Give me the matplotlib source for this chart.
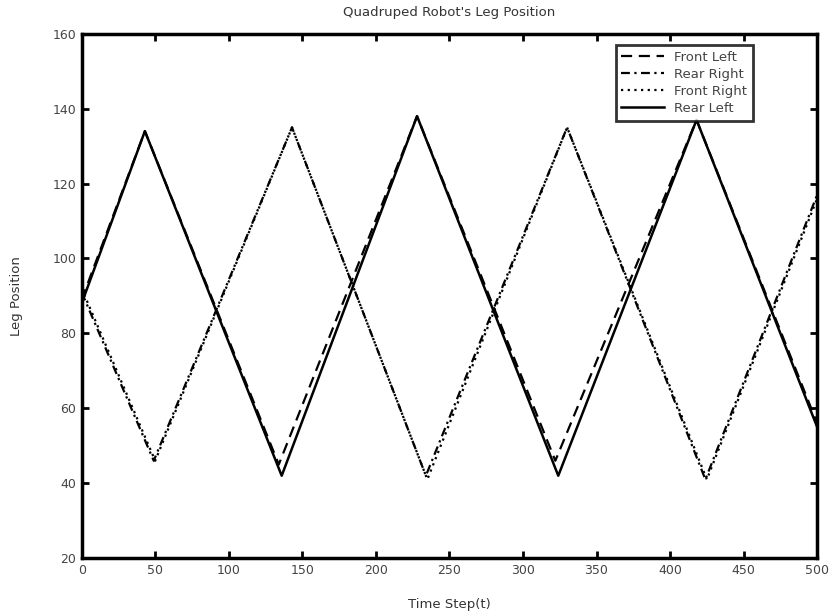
import matplotlib.pyplot as plt
import numpy as np

plt.rcParams['font.family'] = ['DejaVu Sans']

# turning points (time step, leg position)
front_left_t = [0, 43, 134, 228, 322, 418, 500]
front_left_y = [89, 134, 45, 138, 46, 137, 56]

rear_right_t = [0, 49, 143, 234, 330, 424, 500]
rear_right_y = [91, 46, 135, 42, 135, 41, 117]

front_right_t = [0, 50, 143, 235, 330, 425, 500]
front_right_y = [92, 46, 135, 41, 135, 41, 116]

rear_left_t = [0, 43, 136, 228, 324, 418, 500]
rear_left_y = [88, 134, 42, 138, 42, 137, 55]

x_ticks = np.arange(0, 501, 50)
y_ticks = np.arange(20, 161, 20)

fig = plt.figure(figsize=(8.33, 6.14), dpi=100)
ax = fig.add_axes([0.098, 0.091, 0.883, 0.854])

ax.plot(front_left_t, front_left_y, color='k', lw=1.6, ls=(0, (5, 3)), label='Front Left')
ax.plot(rear_right_t, rear_right_y, color='k', lw=1.6, ls=(0, (4, 2, 1, 2)), label='Rear Right')
ax.plot(front_right_t, front_right_y, color='k', lw=1.6, ls=(0, (1, 2)), label='Front Right')
ax.plot(rear_left_t, rear_left_y, color='k', lw=1.8, ls='-', label='Rear Left')

ax.set_xlim(0, 500)
ax.set_ylim(20, 160)
ax.set_xticks(x_ticks)
ax.set_yticks(y_ticks)
ax.tick_params(direction='in', top=True, right=True, length=5, width=2,
               labelsize=9, colors='k', labelcolor='#444444', pad=4)
for s in ax.spines.values():
    s.set_linewidth(2.5)

ax.set_title("Quadruped Robot's Leg Position", fontsize=9.5, color='#333333', pad=13)
ax.set_xlabel('Time Step(t)', fontsize=9.5, color='#333333', labelpad=15)
ax.set_ylabel('Leg Position', fontsize=9.5, color='#333333', labelpad=21)

leg = ax.legend(loc='upper right', bbox_to_anchor=(0.913, 0.979), fontsize=9.5,
                frameon=True, fancybox=False, handlelength=3.2,
                labelspacing=0.3, borderpad=0.45, handletextpad=0.8,
                borderaxespad=0)
leg.get_frame().set_edgecolor('k')
leg.get_frame().set_linewidth(2)
for t in leg.get_texts():
    t.set_color('#444444')

fig.savefig('out.png', dpi=100)
